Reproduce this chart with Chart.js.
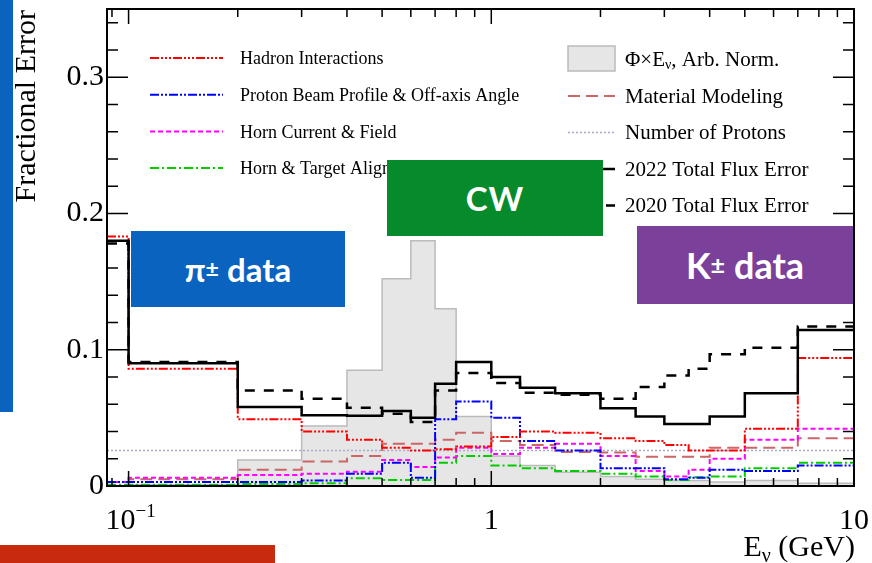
<!DOCTYPE html>
<html>
<head>
<meta charset="utf-8">
<script src="https://cdn.jsdelivr.net/npm/chart.js@4.4.1/dist/chart.umd.min.js"></script>
<style>
    body { margin: 0; background: #fff; }
    #wrap { position: relative; width: 872px; height: 563px; overflow: hidden; }
    #myChart { position: absolute; left: 0; top: 0; }
    .tag { position: absolute; color: #fff; font-family: Lato, "Open Sans", sans-serif; font-weight: bold;
           display: flex; align-items: center; justify-content: center; white-space: nowrap; }
    .tag sup { font-size: 0.7em; position: relative; top: -0.05em; }
</style>
</head>
<body>
<div id="wrap">
    <canvas id="myChart" width="872" height="563"></canvas>
    <div class="tag" style="left:0;top:0;width:13px;height:412px;background:#0b63c0;"></div>
    <div class="tag" style="left:131px;top:231px;width:214px;height:76px;background:#0b63c0;font-size:33px;">π<sup>±</sup>&nbsp;data</div>
    <div class="tag" style="left:387px;top:160px;width:216px;height:76px;background:#078a2c;font-size:33px;letter-spacing:1px;">CW</div>
    <div class="tag" style="left:637px;top:226px;width:216px;height:78px;background:#7a409a;font-size:36px;">K<sup>±</sup>&nbsp;data</div>
    <div class="tag" style="left:0;top:545px;width:275px;height:18px;background:#c82a0e;"></div>
</div>
<script>
// bins (GeV), lower edge of first bin = left edge of the frame
let bin_edges = [0.0872, 0.1, 0.2, 0.3, 0.4, 0.5, 0.6, 0.7, 0.8, 1.0, 1.2, 1.5, 2.0, 2.5, 3.0, 3.5, 4.0, 5.0, 7.0, 10.0];

let flux = [0, 0.001, 0.019, 0.044, 0.085, 0.152, 0.180, 0.130, 0.051, 0.022, 0.015, 0.010, 0.007, 0.005, 0.004, 0.004, 0.003, 0.004, 0.002];
let hadron = [0.183, 0.086, 0.049, 0.040, 0.034, 0.028, 0.026, 0.027, 0.029, 0.036, 0.040, 0.039, 0.035, 0.033, 0.030, 0.026, 0.026, 0.042, 0.094];
let proton_beam = [0.003, 0.003, 0.003, 0.004, 0.009, 0.017, 0.006, 0.049, 0.062, 0.050, 0.033, 0.026, 0.013, 0.013, 0.005, 0.006, 0.012, 0.011, 0.015];
let horn_current = [0.003, 0.006, 0.008, 0.009, 0.0105, 0.019, 0.014, 0.021, 0.028, 0.0235, 0.028, 0.031, 0.022, 0.011, 0.007, 0.012, 0.020, 0.034, 0.042];
let horn_target = [0.001, 0.001, 0.0015, 0.002, 0.0056, 0.0044, 0.0044, 0.017, 0.022, 0.015, 0.013, 0.011, 0.009, 0.007, 0.0044, 0.0064, 0.007, 0.013, 0.017];
let material = [0.003, 0.005, 0.012, 0.018, 0.022, 0.031, 0.031, 0.034, 0.039, 0.033, 0.030, 0.025, 0.0245, 0.0215, 0.0215, 0.0215, 0.028, 0.028, 0.035];
let n_protons = [0.026, 0.026, 0.026, 0.026, 0.026, 0.026, 0.026, 0.026, 0.026, 0.026, 0.026, 0.026, 0.026, 0.026, 0.026, 0.026, 0.026, 0.026, 0.026];
let total_2022 = [0.180, 0.090, 0.058, 0.052, 0.0516, 0.055, 0.050, 0.075, 0.091, 0.080, 0.072, 0.068, 0.057, 0.051, 0.0455, 0.0455, 0.051, 0.068, 0.1145];
let total_2020 = [0.178, 0.091, 0.070, 0.064, 0.0575, 0.053, 0.047, 0.070, 0.083, 0.0755, 0.0685, 0.067, 0.064, 0.0727, 0.081, 0.086, 0.0966, 0.1015, 0.117];

let y_tick_labels = ["0", "0.1", "0.2", "0.3"];
let x_tick_values = [0.1, 1, 10];

const serif = '"Liberation Serif", "DejaVu Serif", serif';

function histo_points(values) {
    let pts = values.map((v, i) => ({x: bin_edges[i], y: v}));
    pts.push({x: bin_edges[bin_edges.length - 1], y: values[values.length - 1]});
    return pts;
}

function histo(label, values, color, width, dash, order) {
    return {
        label: label,
        data: histo_points(values),
        borderColor: color,
        borderWidth: width,
        borderDash: dash,
        stepped: true,
        pointRadius: 0,
        fill: false,
        order: order
    };
}

let datasets = [
    histo('2022 Total Flux Error', total_2022, '#000000', 2.5, [], 0),
    histo('2020 Total Flux Error', total_2020, '#000000', 2.5, [10, 9], 1),
    histo('Hadron Interactions', hadron, '#ff0000', 2, [9, 2, 2, 2, 2, 2, 2, 2], 2),
    histo('Proton Beam Profile & Off-axis Angle', proton_beam, '#0000ff', 2, [9, 2, 2, 2, 2, 2], 3),
    histo('Horn Current & Field', horn_current, '#ff00ff', 2, [5, 3], 4),
    histo('Horn & Target Alignment', horn_target, '#00cc00', 2, [9, 3, 2, 3], 5),
    histo('Material Modeling', material, '#cc6666', 2, [12, 6], 6),
    histo('Number of Protons', n_protons, '#aaaacc', 1.5, [2, 2], 7),
    {
        label: 'flux',
        data: histo_points(flux),
        borderColor: '#bbbbbb',
        borderWidth: 1.5,
        backgroundColor: '#e6e6e6',
        stepped: true,
        pointRadius: 0,
        fill: 'origin',
        order: 10
    }
];

function text_sub(ctx, parts, x, y, align) {
    // parts: [text, size, dy]
    let total = 0;
    parts.forEach(p => { ctx.font = p[1] + 'px ' + serif; total += ctx.measureText(p[0]).width; });
    let cx = align === 'right' ? x - total : (align === 'center' ? x - total / 2 : x);
    ctx.textAlign = 'left';
    parts.forEach(p => {
        ctx.font = p[1] + 'px ' + serif;
        ctx.fillText(p[0], cx, y + p[2]);
        cx += ctx.measureText(p[0]).width;
    });
}

function legend_line(ctx, x0, x1, y, color, width, dash) {
    ctx.save();
    ctx.strokeStyle = color;
    ctx.lineWidth = width;
    ctx.setLineDash(dash);
    ctx.beginPath();
    ctx.moveTo(x0, y);
    ctx.lineTo(x1, y);
    ctx.stroke();
    ctx.restore();
}

let root_frame = {
    id: 'root_frame',
    afterDraw(chart) {
        const ctx = chart.ctx;
        const area = chart.chartArea;
        const xs = chart.scales.x;
        const ys = chart.scales.y;
        ctx.save();
        ctx.fillStyle = '#000';
        ctx.strokeStyle = '#000';

        // ticks inside the frame, on all four sides
        ctx.lineWidth = 1.5;
        ctx.beginPath();
        for (let i = 0; i <= 17; i++) {
            let v = i * 0.02;
            let py = ys.getPixelForValue(v);
            let len = (i % 5 === 0) ? 21 : 11;
            ctx.moveTo(area.left, py); ctx.lineTo(area.left + len, py);
            ctx.moveTo(area.right, py); ctx.lineTo(area.right - len, py);
        }
        let minor_x = [0.09, 0.2, 0.3, 0.4, 0.5, 0.6, 0.7, 0.8, 0.9, 2, 3, 4, 5, 6, 7, 8, 9];
        minor_x.concat(x_tick_values).forEach(v => {
            let px = xs.getPixelForValue(v);
            let len = x_tick_values.includes(v) ? 15 : 8;
            ctx.moveTo(px, area.bottom); ctx.lineTo(px, area.bottom - len);
            ctx.moveTo(px, area.top); ctx.lineTo(px, area.top + len);
        });
        ctx.stroke();

        ctx.lineWidth = 2;
        ctx.strokeRect(area.left, area.top, area.right - area.left, area.bottom - area.top);

        // tick labels
        ctx.textBaseline = 'middle';
        ctx.textAlign = 'right';
        ctx.font = '30px ' + serif;
        y_tick_labels.forEach(t => {
            ctx.fillText(t, 104, ys.getPixelForValue(parseFloat(t)));
        });
        ctx.textBaseline = 'alphabetic';
        text_sub(ctx, [['10', 30, 0], ['\u22121', 19, -12]], xs.getPixelForValue(0.1) + 2, 529, 'center');
        text_sub(ctx, [['1', 30, 0]], xs.getPixelForValue(1), 529, 'center');
        text_sub(ctx, [['10', 30, 0]], xs.getPixelForValue(10), 529, 'center');

        // axis titles
        text_sub(ctx, [['E', 30, 0], ['\u03bd', 20, 6], [' (GeV)', 30, 0]], 855, 556, 'right');
        ctx.save();
        ctx.translate(35, 10);
        ctx.rotate(-Math.PI / 2);
        ctx.font = '30px ' + serif;
        ctx.textAlign = 'right';
        ctx.fillText('Fractional Error', 0, 0);
        ctx.restore();

        // legend, left column
        ctx.textBaseline = 'middle';
        let left_rows = [
            ['Hadron Interactions', '#ff0000', [9, 2, 2, 2, 2, 2, 2, 2]],
            ['Proton Beam Profile & Off-axis Angle', '#0000ff', [9, 2, 2, 2, 2, 2]],
            ['Horn Current & Field', '#ff00ff', [5, 3]],
            ['Horn & Target Alignment', '#00cc00', [9, 3, 2, 3]]
        ];
        left_rows.forEach((r, i) => {
            let y = 58 + i * 36.7;
            legend_line(ctx, 150, 223, y, r[1], 2, r[2]);
            ctx.font = '18px ' + serif;
            ctx.textAlign = 'left';
            ctx.fillText(r[0], 240, y + 1.5);
        });

        // legend, right column
        ctx.fillStyle = '#e6e6e6';
        ctx.fillRect(568, 46, 47, 25);
        ctx.strokeStyle = '#bbbbbb';
        ctx.lineWidth = 1.5;
        ctx.strokeRect(568, 46, 47, 25);
        ctx.fillStyle = '#000';
        text_sub(ctx, [['\u03a6\u00d7E', 21, 0], ['\u03bd', 14, 5], [', Arb. Norm.', 21, 0]], 625, 60, 'left');
        let right_rows = [
            ['Material Modeling', '#cc6666', 2, [12, 6]],
            ['Number of Protons', '#aaaacc', 1.5, [2, 2]],
            ['2022 Total Flux Error', '#000000', 2.5, []],
            ['2020 Total Flux Error', '#000000', 2.5, [10, 9]]
        ];
        right_rows.forEach((r, i) => {
            let y = 96 + i * 36.5;
            legend_line(ctx, 568, 615, y, r[1], r[2], r[3]);
            ctx.font = '21px ' + serif;
            ctx.textAlign = 'left';
            ctx.fillText(r[0], 625, y + 1);
        });
        ctx.restore();
    }
};

const ctx = document.getElementById('myChart');

let my_chart = new Chart(ctx, {
    type: 'line',
    data: { datasets: datasets },
    options: {
        responsive: false,
        animation: false,
        layout: { padding: { left: 107, right: 18, top: 9, bottom: 77 } },
        plugins: { legend: { display: false }, tooltip: { enabled: false } },
        scales: {
            x: { type: 'logarithmic', min: 0.0872, max: 10, display: false },
            y: { type: 'linear', min: 0, max: 0.35, display: false }
        }
    },
    plugins: [root_frame]
});
</script>
</body>
</html>
